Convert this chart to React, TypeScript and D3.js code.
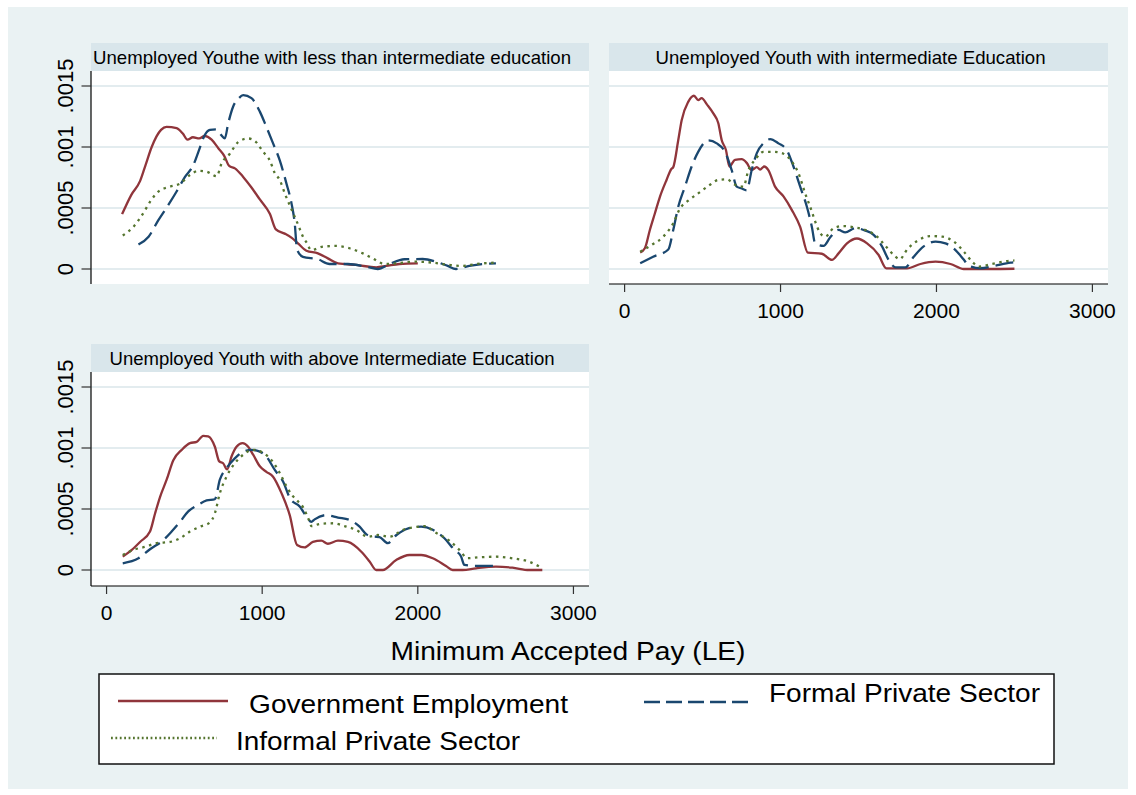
import * as d3 from "d3";

// kernel density values, in units of 1e-4
const lessGov: [number, number][] = [
  [100, 4.5], [160, 6.1], [215, 7.2], [250, 8.5], [290, 10.0], [350, 11.4], [385, 11.65], [450, 11.55],
  [490, 11.1], [520, 10.6], [555, 10.8], [595, 10.7], [630, 10.9], [675, 10.6], [718, 9.9], [755, 9.3],
  [788, 8.45], [825, 8.25], [878, 7.55], [930, 6.7], [985, 5.7], [1050, 4.5], [1088, 3.25], [1145, 2.9],
  [1190, 2.55], [1230, 2.1], [1284, 1.5], [1358, 1.28], [1422, 0.87], [1487, 0.46], [1604, 0.33],
  [1733, 0.14], [1797, 0.25], [1882, 0.41], [2000, 0.46],
];
const lessFormal: [number, number][] = [
  [205, 2.0], [270, 2.65], [333, 4.0], [397, 5.25], [450, 6.35], [504, 7.55], [557, 8.5], [590, 9.6],
  [632, 11.0], [664, 11.4], [707, 11.45], [735, 11.0], [760, 10.7], [781, 11.9], [813, 13.3], [850, 14.0],
  [878, 14.25], [931, 14.0], [985, 12.9], [1027, 11.65], [1070, 10.3], [1113, 8.9], [1156, 7.0],
  [1188, 5.4], [1209, 3.75], [1224, 1.6], [1262, 1.0], [1358, 0.8], [1433, 0.41], [1551, 0.41],
  [1669, 0.19], [1743, 0.0], [1818, 0.41], [1914, 0.8], [2031, 0.82], [2117, 0.6], [2192, 0.25],
  [2245, 0.0], [2331, 0.25], [2416, 0.41], [2502, 0.46],
];
const lessInformal: [number, number][] = [
  [104, 2.75], [172, 3.45], [237, 4.6], [279, 5.5], [333, 6.35], [408, 6.75], [472, 7.0], [536, 7.7],
  [589, 8.05], [643, 7.98], [707, 7.6], [739, 8.65], [792, 9.45], [846, 10.4], [910, 10.7], [953, 10.5],
  [1006, 9.6], [1049, 8.9], [1081, 7.85], [1113, 7.3], [1145, 6.2], [1188, 4.9], [1235, 3.5], [1260, 2.7],
  [1284, 2.2], [1316, 1.55], [1390, 1.83], [1476, 1.89], [1562, 1.7], [1647, 1.28], [1711, 0.87],
  [1786, 0.41], [1861, 0.46], [1989, 0.6], [2096, 0.52], [2203, 0.33], [2288, 0.25], [2374, 0.41],
  [2502, 0.52],
];

const interGov: [number, number][] = [
  [100, 1.35], [130, 1.7], [162, 3.2], [194, 4.55], [226, 5.9], [269, 7.3], [300, 8.2], [312, 8.35],
  [344, 10.55], [366, 12.2], [408, 13.7], [445, 14.2], [472, 13.85], [494, 14.0], [530, 13.45],
  [569, 12.75], [601, 11.95], [623, 10.55], [650, 9.75], [672, 8.4], [708, 8.95], [751, 9.0], [783, 8.7],
  [815, 8.1], [848, 8.35], [869, 8.15], [895, 8.4], [922, 8.1], [965, 6.75], [1019, 5.95], [1072, 4.85],
  [1126, 3.45], [1175, 1.35], [1265, 1.25], [1330, 0.75], [1372, 1.28], [1426, 2.1], [1490, 2.5],
  [1555, 2.1], [1629, 1.15], [1679, 0.05], [1811, 0.05], [1897, 0.41], [1994, 0.6], [2090, 0.41],
  [2175, 0.0], [2347, 0.0], [2500, 0.02],
];
const interFormal: [number, number][] = [
  [100, 0.47], [183, 1.0], [280, 1.6], [312, 3.2], [344, 5.1], [387, 6.75], [430, 8.4], [472, 9.6],
  [537, 10.55], [591, 10.3], [644, 9.6], [687, 8.1], [719, 6.75], [751, 6.6], [783, 6.45], [815, 8.1],
  [848, 9.5], [890, 10.3], [933, 10.65], [987, 10.3], [1040, 9.75], [1083, 8.4], [1126, 6.75],
  [1169, 5.1], [1201, 3.45], [1222, 2.1], [1276, 1.9], [1319, 2.6], [1372, 3.2], [1415, 3.0],
  [1480, 3.35], [1544, 3.15], [1597, 2.8], [1651, 1.85], [1693, 0.75], [1737, 0.14], [1801, 0.14],
  [1854, 1.0], [1918, 1.85], [1994, 2.25], [2058, 2.1], [2122, 1.55], [2176, 0.75], [2208, 0.25],
  [2283, 0.06], [2368, 0.25], [2476, 0.52], [2500, 0.55],
];
const interInformal: [number, number][] = [
  [100, 1.42], [173, 1.97], [248, 2.65], [312, 3.75], [355, 4.95], [408, 5.6], [472, 6.2], [537, 6.8],
  [601, 7.3], [655, 7.35], [708, 6.9], [762, 6.75], [794, 8.1], [837, 8.95], [890, 9.6], [954, 9.6],
  [1019, 9.45], [1072, 8.8], [1115, 7.85], [1158, 6.2], [1201, 4.7], [1222, 3.9], [1254, 2.95],
  [1287, 2.65], [1340, 3.35], [1404, 3.52], [1469, 3.42], [1544, 3.2], [1619, 2.65], [1672, 1.9],
  [1726, 1.15], [1764, 0.8], [1812, 1.6], [1876, 2.3], [1961, 2.7], [2037, 2.65], [2111, 2.25],
  [2176, 1.42], [2229, 0.6], [2272, 0.19], [2347, 0.39], [2476, 0.68], [2500, 0.7],
];

const aboveGov: [number, number][] = [
  [104, 1.1], [162, 1.65], [215, 2.3], [279, 3.15], [312, 4.65], [344, 6.0], [386, 7.4], [429, 9.0],
  [483, 9.85], [536, 10.4], [579, 10.5], [621, 11.0], [653, 10.95], [696, 10.1], [724, 8.9], [749, 8.75],
  [775, 8.25], [803, 9.3], [835, 10.1], [874, 10.4], [910, 10.1], [942, 9.45], [985, 8.5], [1027, 8.05],
  [1070, 7.65], [1124, 6.3], [1177, 4.5], [1224, 2.05], [1273, 1.85], [1326, 2.3], [1380, 2.4],
  [1422, 2.15], [1487, 2.4], [1551, 2.3], [1637, 1.5], [1690, 0.7], [1733, 0], [1775, 0], [1861, 0.82],
  [1946, 1.23], [2021, 1.23], [2096, 0.96], [2181, 0.33], [2224, 0], [2288, 0], [2374, 0.14],
  [2502, 0.27], [2608, 0.19], [2715, 0], [2800, 0],
];
const aboveFormal: [number, number][] = [
  [104, 0.55], [205, 0.96], [279, 1.7], [365, 2.45], [418, 3.15], [472, 3.95], [525, 4.8], [589, 5.35],
  [643, 5.7], [696, 5.8], [728, 7.4], [771, 8.35], [824, 9.15], [878, 9.7], [931, 9.85], [985, 9.7],
  [1027, 9.3], [1081, 8.2], [1134, 7.25], [1180, 5.85], [1241, 5.2], [1284, 4.4], [1316, 3.95],
  [1337, 4.15], [1412, 4.5], [1487, 4.3], [1562, 4.1], [1626, 3.55], [1672, 2.9], [1711, 2.75],
  [1754, 2.7], [1807, 2.2], [1861, 2.85], [1935, 3.4], [2021, 3.55], [2096, 3.3], [2171, 2.6],
  [2235, 1.65], [2278, 1.1], [2299, 0.42], [2374, 0.33], [2502, 0.33],
];
const aboveInformal: [number, number][] = [
  [104, 1.23], [172, 1.65], [247, 1.9], [322, 2.2], [408, 2.3], [472, 2.6], [536, 3.15], [600, 3.55],
  [664, 3.9], [696, 4.65], [728, 6.3], [771, 7.65], [824, 8.75], [878, 9.45], [942, 9.85], [1006, 9.6],
  [1060, 9.0], [1113, 7.95], [1156, 6.85], [1188, 6.2], [1220, 5.75], [1262, 5.15], [1305, 3.95],
  [1316, 3.6], [1369, 3.77], [1455, 3.83], [1529, 3.6], [1604, 3.28], [1679, 2.73], [1743, 2.87],
  [1818, 2.73], [1903, 3.28], [1978, 3.5], [2042, 3.6], [2117, 3.05], [2203, 2.4], [2267, 1.65],
  [2320, 0.97], [2395, 1.04], [2502, 1.09], [2608, 0.96], [2715, 0.68], [2790, 0.22],
];

const titles = [
  "Unemployed Youthe with less than intermediate education",
  "Unemployed Youth with intermediate Education",
  "Unemployed Youth with above Intermediate Education",
];
const seriesNames = ["Government Employment", "Formal Private Sector", "Informal Private Sector"];
const xTicks = [0, 1000, 2000, 3000];
const yTicks = [0, 0.0005, 0.001, 0.0015];
const yTickLabels = ["0", ".0005", ".001", ".0015"];
const xTitle = "Minimum Accepted Pay (LE)";

const UNIT = 1e-4;
const COLORS = ["#90353b", "#1a476f", "#55752f"];
const DASH = ["none", "18,7", "2.5,4.5"];
const FONT = "Arial, 'Liberation Sans', sans-serif";
const BG = "#eaf2f3";
const STRIP = "#d9e6eb";
const GRID = "#e3ecef";

const cols = [
  { x0: 91, x1: 589 },
  { x0: 609, x1: 1108 },
];
const rows = [
  { top: 71, bottom: 284, zero: 269, max: 86 },
  { top: 372, bottom: 586, zero: 570, max: 387 },
];

const panels = [
  { title: titles[0], series: [lessGov, lessFormal, lessInformal], col: 0, row: 0, yAxis: true, xAxis: false, tw: 478 },
  { title: titles[1], series: [interGov, interFormal, interInformal], col: 1, row: 0, yAxis: false, xAxis: true, tw: 390 },
  { title: titles[2], series: [aboveGov, aboveFormal, aboveInformal], col: 0, row: 1, yAxis: true, xAxis: true, tw: 445 },
];

function Panel({ p }: { p: (typeof panels)[number] }) {
  const c = cols[p.col];
  const r = rows[p.row];
  const x = d3.scaleLinear([-100, 3100], [c.x0, c.x1]);
  const y = d3.scaleLinear([0, 0.0015], [r.zero, r.max]);
  const line = d3
    .line<[number, number]>()
    .x((d) => x(d[0]))
    .y((d) => y(d[1] * UNIT))
    .curve(d3.curveMonotoneX);
  const stripTop = r.top - 28;
  const mid = (c.x0 + c.x1) / 2 - 8;

  return (
    <g>
      <rect x={c.x0} y={stripTop} width={c.x1 - c.x0} height={28} fill={STRIP} />
      <text
        x={mid}
        y={stripTop + 20.5}
        textAnchor="middle"
        fontSize={18.5}
        textLength={p.tw}
        lengthAdjust="spacingAndGlyphs"
      >
        {p.title}
      </text>
      <rect x={c.x0} y={r.top} width={c.x1 - c.x0} height={r.bottom - r.top} fill="#fff" />
      {yTicks.map((t) => (
        <line key={t} x1={c.x0} x2={c.x1} y1={y(t)} y2={y(t)} stroke={GRID} strokeWidth={2} />
      ))}
      {p.series.map((s, i) => (
        <path
          key={i}
          d={line(s)!}
          fill="none"
          stroke={COLORS[i]}
          strokeWidth={2.3}
          strokeDasharray={DASH[i]}
          strokeLinejoin="round"
        />
      ))}
      {p.yAxis && (
        <g>
          <line x1={c.x0} x2={c.x0} y1={r.top} y2={r.bottom} stroke="#000" strokeWidth={1.2} />
          {yTicks.map((t, i) => (
            <g key={t}>
              <line x1={c.x0 - 9.5} x2={c.x0} y1={y(t)} y2={y(t)} stroke="#333" strokeWidth={1.2} />
              <text
                transform={`translate(73,${y(t)}) rotate(-90)`}
                textAnchor="middle"
                fontSize={22}
              >
                {yTickLabels[i]}
              </text>
            </g>
          ))}
        </g>
      )}
      {p.xAxis && (
        <g>
          <line x1={c.x0} x2={c.x1} y1={r.bottom} y2={r.bottom} stroke="#000" strokeWidth={1.2} />
          {xTicks.map((t) => (
            <g key={t}>
              <line x1={x(t)} x2={x(t)} y1={r.bottom} y2={r.bottom + 8} stroke="#333" strokeWidth={1.2} />
              <text x={x(t)} y={r.bottom + 34} textAnchor="middle" fontSize={21}>
                {t}
              </text>
            </g>
          ))}
        </g>
      )}
    </g>
  );
}

export default function App() {
  const legendItems = [
    { lx0: 118, lx1: 228, ly: 701, tx: 249, ty: 713, tw: 319, dash: "none" },
    { lx0: 644, lx1: 754, ly: 702, tx: 769, ty: 701.5, tw: 271, dash: "16,6" },
    { lx0: 111, lx1: 217, ly: 738, tx: 236, ty: 750, tw: 284, dash: "1.8,2.6" },
  ];
  return (
    <svg
      width={1136}
      height={795}
      style={{ position: "absolute", left: 0, top: 0 }}
      fontFamily={FONT}
    >
      <rect width={1136} height={795} fill="#fff" />
      <rect x={8} y={7} width={1120} height={782} fill={BG} />
      {panels.map((p, i) => (
        <Panel key={i} p={p} />
      ))}
      <text x={568} y={660} textAnchor="middle" fontSize={25} textLength={355} lengthAdjust="spacingAndGlyphs">
        {xTitle}
      </text>
      <rect x={99} y={674} width={955} height={90} fill="#fff" stroke="#111" strokeWidth={1.5} />
      {legendItems.map((l, i) => (
        <g key={i}>
          <line
            x1={l.lx0}
            x2={l.lx1}
            y1={l.ly}
            y2={l.ly}
            stroke={COLORS[i]}
            strokeWidth={2.5}
            strokeDasharray={l.dash}
          />
          <text x={l.tx} y={l.ty} fontSize={25} textLength={l.tw} lengthAdjust="spacingAndGlyphs">
            {seriesNames[i]}
          </text>
        </g>
      ))}
    </svg>
  );
}
